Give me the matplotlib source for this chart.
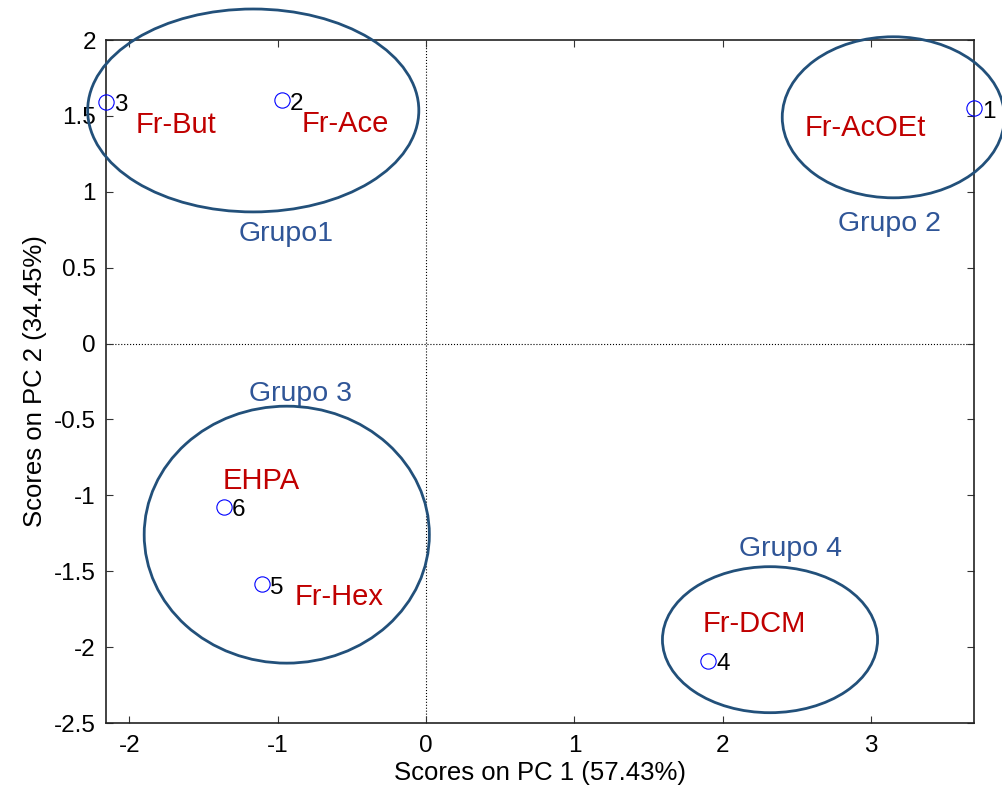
import matplotlib.pyplot as plt
from matplotlib.patches import Ellipse

plt.rcParams['font.family'] = ['Liberation Sans', 'DejaVu Sans']

# PCA scores
sample_ids = ['1', '2', '3', '4', '5', '6']
pc1 = [3.693, -0.973, -2.160, 1.900, -1.108, -1.364]
pc2 = [1.550, 1.605, 1.594, -2.089, -1.584, -1.074]

# fraction names (red) and their anchor points
frac_names = ['Fr-But', 'Fr-Ace', 'Fr-AcOEt', 'EHPA', 'Fr-Hex', 'Fr-DCM']
frac_x = [-1.955, -0.838, 2.551, -1.371, -0.883, 1.866]
frac_y = [1.389, 1.396, 1.368, -0.960, -1.722, -1.898]

# groups: label, label anchor, ellipse centre / size
grp_names = ['Grupo1', 'Grupo 2', 'Grupo 3', 'Grupo 4']
grp_lx = [-1.261, 2.778, -1.194, 2.106]
grp_ly = [0.676, 0.742, -0.376, -1.399]
ell_cx = [-1.165, 3.149, -0.939, 2.318]
ell_cy = [1.536, 1.491, -1.259, -1.951]
ell_w = [2.232, 1.497, 1.922, 1.450]
ell_h = [1.337, 1.061, 1.693, 0.962]

red = '#C00000'
grp_col = '#2F5597'
ell_col = '#22507A'

fig = plt.figure(figsize=(10.03, 7.96), dpi=100)
ax = fig.add_axes([0.1053, 0.0917, 0.8658, 0.858])

ax.axvline(0, color='k', ls=':', lw=0.8, zorder=1)
ax.axhline(0, color='k', ls=':', lw=0.8, zorder=1)

ax.plot(pc1, pc2, 'o', mfc='none', mec='blue', ms=11, mew=0.8, ls='none',
        clip_on=False, zorder=3)
for sid, x, y in zip(sample_ids, pc1, pc2):
    ax.annotate(sid, (x, y), xytext=(6, -7), textcoords='offset points',
                ha='left', va='baseline', fontsize=17.5, color='k')

for name, x, y in zip(frac_names, frac_x, frac_y):
    ax.text(x, y, name, color=red, fontsize=21, ha='left', va='baseline')

for name, x, y in zip(grp_names, grp_lx, grp_ly):
    ax.text(x, y, name, color=grp_col, fontsize=20.5, ha='left', va='baseline')

for cx, cy, w, h in zip(ell_cx, ell_cy, ell_w, ell_h):
    ax.add_patch(Ellipse((cx, cy), w, h, fill=False, ec=ell_col, lw=2.0,
                         clip_on=False, zorder=4))

ax.set_xlim(min(pc1), max(pc1))
ax.set_ylim(-2.5, 2)
ax.set_xticks([-2, -1, 0, 1, 2, 3])
ax.set_yticks([-2.5, -2, -1.5, -1, -0.5, 0, 0.5, 1, 1.5, 2])
ax.set_yticklabels(['-2.5', '-2', '-1.5', '-1', '-0.5', '0', '0.5', '1', '1.5', '2'])
ax.set_xticklabels(['-2', '-1', '0', '1', '2', '3'])

ax.tick_params(direction='in', length=5, width=0.8, color='#333333',
               top=True, right=True, labelsize=17.5)
ax.tick_params(axis='x', pad=8.5)
ax.tick_params(axis='y', pad=7)
for s in ax.spines.values():
    s.set_linewidth(1.2)
    s.set_color('#222222')

ax.set_xlabel('Scores on PC 1 (57.43%)', fontsize=18.5, labelpad=3)
ax.set_ylabel('Scores on PC 2 (34.45%)', fontsize=18.5, labelpad=5)

fig.savefig('out.png', dpi=100)
